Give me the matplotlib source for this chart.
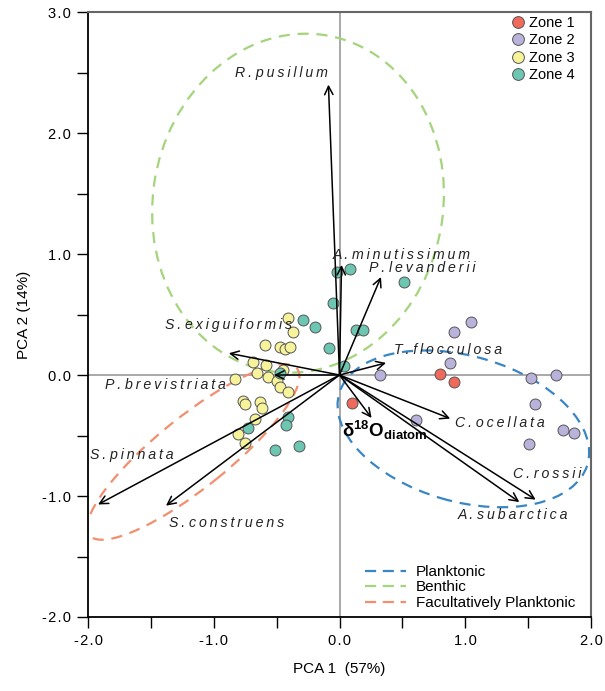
import matplotlib
matplotlib.use('Agg')
import matplotlib.pyplot as plt
from matplotlib.patches import Ellipse
from matplotlib.lines import Line2D

plt.rcParams['font.family'] = ['Liberation Sans', 'DejaVu Sans']
plt.rcParams['mathtext.fontset'] = 'custom'
plt.rcParams['mathtext.rm'] = 'Liberation Sans'
plt.rcParams['mathtext.bf'] = 'Liberation Sans:bold'

# ---------------- data ----------------
zone_names = ['Zone 1', 'Zone 2', 'Zone 3', 'Zone 4']

zone1_x = [0.797, 0.908, 0.096]
zone1_y = [0.008, -0.058, -0.231]

zone2_x = [0.908, 1.044, 0.876, 0.319, 1.522, 1.721, 1.554, 0.606, 1.777, 1.865, 1.506]
zone2_y = [0.355, 0.438, 0.099, 0.000, -0.025, 0.000, -0.240, -0.372, -0.455, -0.479, -0.570]

zone3_x = [-0.406, -0.367, -0.590, -0.470, -0.430, -0.390, -0.685, -0.582, -0.446, -0.653, -0.566,
           -0.494, -0.470, -0.406, -0.829, -0.765, -0.749, -0.629, -0.614, -0.669, -0.805, -0.749]
zone3_y = [0.471, 0.355, 0.248, 0.231, 0.215, 0.231, 0.107, 0.083, 0.041, 0.017, -0.017,
           -0.050, -0.099, -0.140, -0.033, -0.215, -0.240, -0.223, -0.273, -0.364, -0.488, -0.562]

zone4_x = [-0.016, 0.080, 0.510, -0.048, -0.287, -0.191, 0.135, 0.183, -0.080, 0.032, -0.470,
           -0.406, -0.422, -0.725, -0.510, -0.319]
zone4_y = [0.851, 0.876, 0.769, 0.595, 0.455, 0.397, 0.372, 0.372, 0.223, 0.074, 0.017,
           -0.347, -0.413, -0.438, -0.620, -0.587]

species = ['R. pusillum', 'A. minutissimum', 'P. levanderii', 'S. exiguiformis', 'P. brevistriata',
           'S. pinnata', 'S. construens', 'T. flocculosa', 'C. ocellata', 'C. rossii', 'A. subarctica']
loading_x = [-0.088, 0.016, 0.33, -0.88, -0.52, -1.92, -1.38, 0.37, 0.88, 1.56, 1.43]
loading_y = [2.40, 0.91, 0.81, 0.18, 0.00, -1.07, -1.08, 0.10, -0.36, -1.03, -1.05]

d18o_x = 0.255
d18o_y = -0.355

groups = ['Planktonic', 'Benthic', 'Facultatively Planktonic']
group_cx = [0.985, -0.33, -1.163]
group_cy = [-0.445, 1.42, -0.636]
group_w = [2.06, 2.31, 2.15]
group_h = [1.20, 2.81, 0.58]
group_angle = [-17, -8, 40]

xticks = [-2.0, -1.0, 0.0, 1.0, 2.0]
yticks = [-2.0, -1.0, 0.0, 1.0, 2.0, 3.0]
xminor = [-1.5, -0.5, 0.5, 1.5]
yminor = [-1.5, -0.5, 0.5, 1.5, 2.5]

# ---------------- style ----------------
zone_colors = ['#ef6a5a', '#b9b3dc', '#f6f39b', '#6cc6b1']
group_colors = ['#3a86c4', '#a4d47c', '#f28f6e']

label_pos = {
    'R. pusillum': (-0.829, 2.50),
    'A. minutissimum': (-0.056, 0.99),
    'P. levanderii': (0.231, 0.884),
    'S. exiguiformis': (-1.386, 0.413),
    'P. brevistriata': (-1.865, -0.083),
    'S. pinnata': (-1.984, -0.661),
    'S. construens': (-1.355, -1.223),
    'T. flocculosa': (0.430, 0.207),
    'C. ocellata': (0.916, -0.397),
    'C. rossii': (1.378, -0.818),
    'A. subarctica': (0.940, -1.157),
}


def spaced(s, sep='\u2009'):
    return ' '.join(sep.join(w) for w in s.split(' '))


def fmt(v):
    return spaced('%.1f' % v, '\u200a')


fig = plt.figure(figsize=(6.05, 6.91), dpi=100)
ax = fig.add_axes([88 / 605, 1 - 617 / 691, 503 / 605, 605 / 691])
ax.set_xlim(-2.0, 2.0)
ax.set_ylim(-2.0, 3.0)

ax.axhline(0, color='#9a9a9a', lw=1.2, zorder=0)
ax.axvline(0, color='#9a9a9a', lw=1.2, zorder=0)

for cx, cy, w, h, a, c in zip(group_cx, group_cy, group_w, group_h, group_angle, group_colors):
    e = Ellipse((cx, cy), w, h, angle=a, fill=False, edgecolor=c, lw=1.6,
                linestyle=(0, (5, 3.5)), zorder=1)
    ax.add_patch(e)

for xs, ys, c in zip([zone1_x, zone2_x, zone3_x, zone4_x], [zone1_y, zone2_y, zone3_y, zone4_y], zone_colors):
    ax.scatter(xs, ys, s=62, facecolor=c, edgecolor='#555555', linewidth=0.7, zorder=3)

for name, lx, ly in zip(species, loading_x, loading_y):
    ax.annotate('', xy=(lx, ly), xytext=(0, 0),
                arrowprops=dict(arrowstyle='->', color='black', lw=1.1, mutation_scale=15,
                                shrinkA=0, shrinkB=0), zorder=4)
    tx, ty = label_pos[name]
    ax.text(tx, ty, spaced(name), fontsize=10.2, style='italic', ha='left', va='center',
            color='#222222', zorder=5)

ax.annotate('', xy=(d18o_x, d18o_y), xytext=(0, 0),
            arrowprops=dict(arrowstyle='->', color='black', lw=1.1, mutation_scale=15,
                            shrinkA=0, shrinkB=0), zorder=4)
ax.text(0.016, -0.455, r'$\mathbf{\delta^{18}O_{diatom}}$', fontsize=13.5, ha='left', va='center',
        color='black', zorder=5)

# axes / ticks
ax.set_xticks(xticks)
ax.set_xticklabels([fmt(v) for v in xticks])
ax.set_yticks(yticks)
ax.set_yticklabels([fmt(v) for v in yticks])
ax.set_xticks(xminor, minor=True)
ax.set_yticks(yminor, minor=True)
ax.tick_params(which='both', direction='out', length=8, width=1.0, color='black',
               labelsize=10.5, pad=4)
for sp in ['left', 'bottom']:
    ax.spines[sp].set_color('black')
    ax.spines[sp].set_linewidth(1.3)
for sp in ['top', 'right']:
    ax.spines[sp].set_color('#666666')
    ax.spines[sp].set_linewidth(1.5)

ax.set_xlabel('PCA 1  (57%)', fontsize=11, labelpad=10)
ax.set_ylabel('PCA 2 (14%)', fontsize=11, labelpad=8)

# legends
zone_handles = [Line2D([0], [0], marker='o', ls='none', markerfacecolor=c, markeredgecolor='#555555',
                       markeredgewidth=0.7, markersize=8.5) for c in zone_colors]
leg1 = ax.legend(zone_handles, zone_names, loc='upper right', bbox_to_anchor=(0.968, 0.993),
                 frameon=False, fontsize=10.5, handletextpad=0.25, labelspacing=0.22,
                 borderpad=0, borderaxespad=0, handlelength=1.0)
ax.add_artist(leg1)

group_handles = [Line2D([0], [0], color=c, lw=1.6, linestyle=(0, (5, 3))) for c in group_colors]
leg2 = ax.legend(group_handles, groups, loc='upper left', bbox_to_anchor=(0.551, 0.086),
                 frameon=False, fontsize=11, handletextpad=0.6, labelspacing=0.1,
                 borderpad=0, borderaxespad=0, handlelength=2.7)

fig.savefig('out.png', dpi=100)
